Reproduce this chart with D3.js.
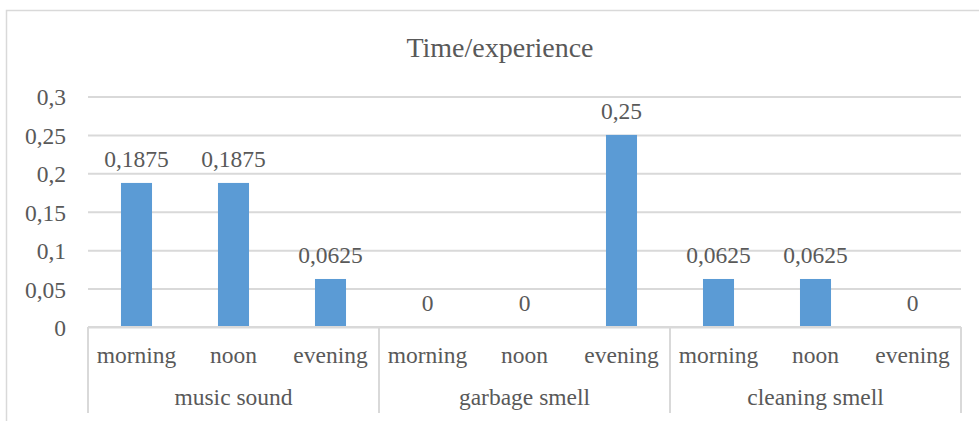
<!DOCTYPE html>
<html><head><meta charset="utf-8">
<script src="https://cdn.jsdelivr.net/npm/d3@7"></script>
<style>html,body{margin:0;padding:0;background:#fff;}svg{display:block;}
svg text{font-family:"Liberation Serif","Times New Roman",Times,serif;}</style>
</head><body>
<svg id="chart" width="979" height="421"></svg>
<script>
const title = "Time/experience";
const groups = ["music sound", "garbage smell", "cleaning smell"];
const times = ["morning", "noon", "evening"];
const values = [0.1875, 0.1875, 0.0625, 0, 0, 0.25, 0.0625, 0.0625, 0];
const yTicks = [0, 0.05, 0.1, 0.15, 0.2, 0.25, 0.3];

(function () {
const rows = [];
groups.forEach((g, gi) => times.forEach((t, ti) => rows.push({group: g, time: t, key: g + "|" + t, value: values[gi * times.length + ti]})));

const svg = d3.select("#chart");
const pLeft = 88, pRight = 961, pTop = 96.5, pBottom = 327;
const textCol = "#595959", gridCol = "#d9d9d9";

// outer border
svg.append("rect").attr("x", 6.5).attr("y", 10.5).attr("width", 990).attr("height", 450)
  .attr("fill", "none").attr("stroke", gridCol).attr("stroke-width", 1.5);

const x = d3.scaleBand().domain(rows.map(d => d.key)).range([pLeft, pRight]).paddingInner(0.68).paddingOuter(0.34);
const xg = d3.scaleBand().domain(groups).range([pLeft, pRight]);
const y = d3.scaleLinear().domain([0, 0.3]).range([pBottom, pTop]);
const fmt = v => String(v).replace(".", ",");

svg.append("text").attr("x", 500).attr("y", 57).attr("text-anchor", "middle")
  .attr("font-size", 28).attr("fill", textCol).text(title);

// gridlines + y labels
const yAxis = d3.axisLeft(y).tickValues(yTicks).tickFormat(fmt).tickSize(-(pRight - pLeft)).tickPadding(22);
const ya = svg.append("g").attr("transform", `translate(${pLeft},0)`).call(yAxis);
ya.attr("font-family", null).attr("font-size", null);
ya.select(".domain").remove();
ya.selectAll(".tick line").attr("stroke", gridCol).attr("stroke-width", 2);
ya.selectAll(".tick text").attr("font-size", 23.5).attr("fill", textCol).attr("dy", "0.36em");

// bars
svg.selectAll("rect.bar").data(rows).join("rect").attr("class", "bar")
  .attr("x", d => x(d.key)).attr("width", x.bandwidth())
  .attr("y", d => y(d.value)).attr("height", d => y(0) - y(d.value))
  .attr("fill", "#5b9bd5");

// data labels
svg.selectAll("text.lbl").data(rows).join("text").attr("class", "lbl")
  .attr("x", d => x(d.key) + x.bandwidth() / 2).attr("y", d => y(d.value) - 16)
  .attr("text-anchor", "middle").attr("font-size", 23.5).attr("fill", textCol)
  .text(d => fmt(d.value));

// category axis frame
const ax = svg.append("g");
ax.append("line").attr("x1", pLeft).attr("x2", pRight).attr("y1", pBottom).attr("y2", pBottom).attr("stroke", gridCol).attr("stroke-width", 2);
const bounds = groups.map(g => xg(g)).concat([pRight]);
ax.selectAll("line.sep").data(bounds).join("line").attr("class", "sep")
  .attr("x1", d => d).attr("x2", d => d).attr("y1", pBottom).attr("y2", 413)
  .attr("stroke", gridCol).attr("stroke-width", 2);

ax.selectAll("text.time").data(rows).join("text").attr("class", "time")
  .attr("x", d => x(d.key) + x.bandwidth() / 2).attr("y", 363)
  .attr("text-anchor", "middle").attr("font-size", 23.5).attr("fill", textCol)
  .text(d => d.time);
ax.selectAll("text.grp").data(groups).join("text").attr("class", "grp")
  .attr("x", d => xg(d) + xg.bandwidth() / 2).attr("y", 405)
  .attr("text-anchor", "middle").attr("font-size", 23.5).attr("fill", textCol)
  .text(d => d);
})();
</script>
</body></html>
